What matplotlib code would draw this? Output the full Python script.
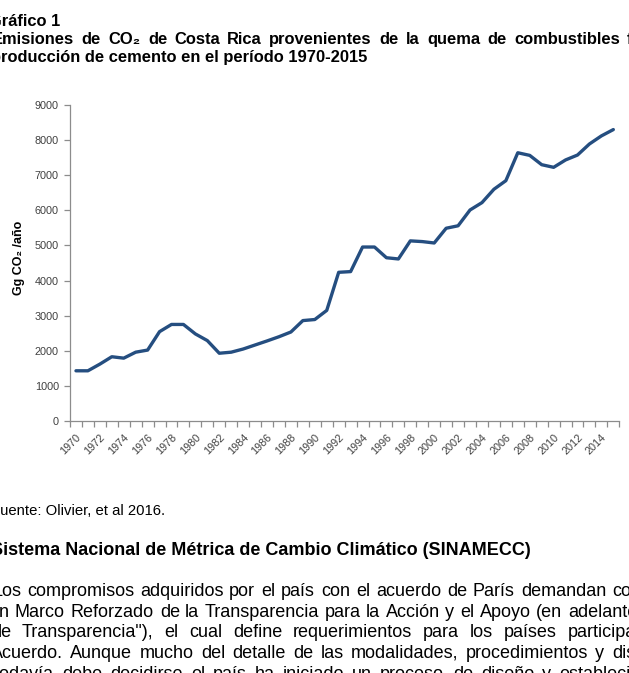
import matplotlib
matplotlib.use("Agg")
import matplotlib.pyplot as plt
from matplotlib.ticker import FixedLocator, NullFormatter

# ---------------- data ----------------
years = list(range(1970, 2016))
emissions = [1430, 1430, 1620, 1830, 1790, 1960, 2020, 2545, 2750, 2750,
             2480, 2290, 1930, 1960, 2050, 2165, 2280, 2400, 2535, 2860,
             2890, 3150, 4235, 4255, 4955, 4955, 4650, 4615, 5130, 5110,
             5070, 5490, 5560, 6010, 6220, 6600, 6845, 7640, 7565, 7300,
             7225, 7435, 7575, 7890, 8120, 8300]
y_ticks = [0, 1000, 2000, 3000, 4000, 5000, 6000, 7000, 8000, 9000]
x_labels = [str(y) for y in years[::2]]

W, H = 629, 673
fig = plt.figure(figsize=(W / 100, H / 100), dpi=100)
FAM = ["Liberation Sans", "DejaVu Sans"]

def fx(px):
    return px / W

def fy(py):
    return 1 - py / H

# ---------------- chart ----------------
ax = fig.add_axes([fx(70), fy(421), fx(619.3) - fx(70), fy(105) - fy(421)])
xs = list(range(len(years)))
ax.plot(xs, emissions, color="#254E80", lw=2.4, solid_joinstyle="round",
        solid_capstyle="round")
ax.set_xlim(-0.5, len(years) - 0.5)
ax.set_ylim(0, 9000)
for s in ["top", "right"]:
    ax.spines[s].set_visible(False)
for s in ["left", "bottom"]:
    ax.spines[s].set_color("#8C8C8C")
    ax.spines[s].set_linewidth(0.9)

ax.set_yticks(y_ticks)
ax.set_yticklabels([str(v) for v in y_ticks], fontsize=7.8, color="#404040",
                   family=FAM)
ax.tick_params(axis="y", direction="out", length=4, width=0.9,
               color="#8C8C8C", pad=4)

ax.set_xticks(xs[::2])
ax.set_xticklabels(x_labels, rotation=45, ha="right", rotation_mode="anchor",
                   fontsize=7.8, color="#404040", family=FAM)
ax.tick_params(axis="x", which="major", length=0, pad=8)
ax.xaxis.set_minor_locator(FixedLocator([i - 0.5 for i in range(len(years) + 1)]))
ax.xaxis.set_minor_formatter(NullFormatter())
ax.tick_params(axis="x", which="minor", direction="out", length=4, width=0.9,
               color="#8C8C8C")

fig.text(fx(19), fy(258), "Gg CO₂ /año", rotation=90, ha="center",
         va="center", fontsize=9, fontweight="bold", family=FAM,
         color="#000000")

# ---------------- surrounding document text ----------------
renderer = fig.canvas.get_renderer()

def justify(sentence, ybase, x0, xlast, fs, weight="normal"):
    words = sentence.split()
    texts = []
    for w in words:
        t = fig.text(0, fy(ybase), w, fontsize=fs, fontweight=weight,
                     family=FAM, va="baseline", ha="left", color="black")
        texts.append(t)
    widths = [t.get_window_extent(renderer).width for t in texts]
    gap = (xlast - x0 - sum(widths[:-1])) / (len(words) - 1)
    x = x0
    for t, wdt in zip(texts, widths):
        t.set_x(fx(round(x)))
        x += wdt + gap

def plain(s, ybase, x0, fs, weight="normal"):
    fig.text(fx(x0), fy(ybase), s, fontsize=fs, fontweight=weight,
             family=FAM, va="baseline", ha="left", color="black")

plain("Gráfico 1", 26, -11, 11.9, "bold")
justify("Emisiones de CO₂ de Costa Rica provenientes de la quema de combustibles fósiles",
        44, -8, 627, 11.9, "bold")
plain("producción de cemento en el período 1970-2015", 62, -9, 11.9, "bold")

plain("Fuente: Olivier, et al 2016.", 515, -9, 10.7)
plain("Sistema Nacional de Métrica de Cambio Climático (SINAMECC)", 555, -9,
      13, "bold")

body = [
    ("Los compromisos adquiridos por el país con el acuerdo de París demandan con", 596, -8, 611.7),
    ("Un Marco Reforzado de la Transparencia para la Acción y el Apoyo (en adelante", 617, -13, 567.7),
    ("de Transparencia\"), el cual define requerimientos para los países participantes", 637, -9, 567.7),
    ("Acuerdo. Aunque mucho del detalle de las modalidades, procedimientos y disposiciones", 658, -9, 611.7),
    ("todavía debe decidirse el país ha iniciado un proceso de diseño y establecimiento", 679, -5, 559),
]
for s, yb, x0, xl in body:
    justify(s, yb, x0, xl, 13)

fig.savefig("out.png", dpi=100)
